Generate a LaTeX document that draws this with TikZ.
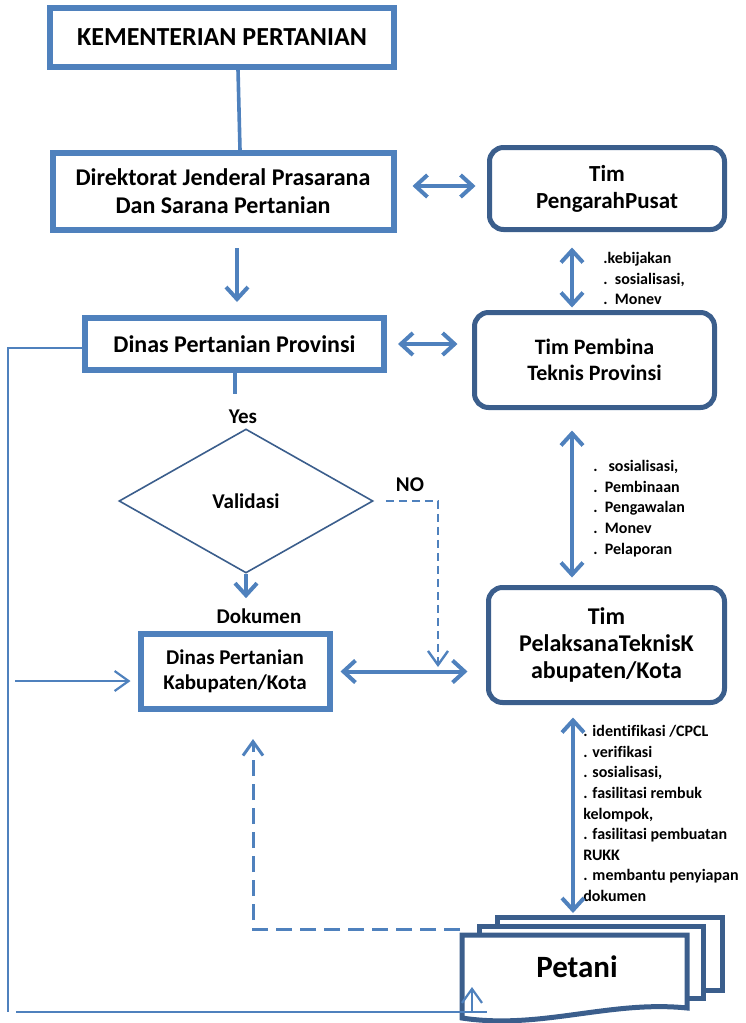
\documentclass[tikz,border=0pt]{standalone}
\usepackage{fontspec}
\setmainfont{Carlito}[Ligatures=CommonOff]
\usetikzlibrary{arrows.meta, positioning, shapes.geometric, calc}
\definecolor{boxBlue}{HTML}{4F81BD}
\definecolor{boxDark}{HTML}{3B5E8C}
\definecolor{lineBlue}{HTML}{4F81BD}
\tikzset{
  dblArrow/.style={arrows={Straight Barb[length=6pt,width=11pt]-Straight Barb[length=6pt,width=11pt]},
                   lineBlue, line width=2pt},
  oneArrow/.style={-{Straight Barb[length=6pt,width=11pt]}, lineBlue, line width=2pt},
  lineK/.style={lineBlue, line width=1.8pt},
  railLine/.style={lineBlue, line width=1.1pt},
  railArrow/.style={-{Straight Barb[length=7pt,width=10pt]}, lineBlue, line width=1.1pt},
  dashArrow/.style={-{Straight Barb[length=7pt,width=10pt]}, lineBlue, line width=1.2pt,
                    dash pattern=on 4pt off 2.5pt},
  dashBack/.style={-{Straight Barb[length=7pt,width=10pt]}, lineBlue, line width=1.5pt,
                   dash pattern=on 8pt off 4pt},
  boxS/.style={rectangle, draw=boxBlue, line width=3pt, fill=white, align=center,
               font=\bfseries\fontsize{12}{14}\selectfont, inner sep=2pt},
  boxR/.style={rectangle, rounded corners=7pt, draw=boxDark, line width=2.5pt, fill=white,
               align=center, font=\bfseries\fontsize{11}{13.2}\selectfont, inner sep=2pt},
  docLine/.style={draw=boxDark, line width=2.5pt, fill=white},
  lbl/.style={font=\bfseries\fontsize{10.5}{12}\selectfont, inner sep=0pt},
  listT/.style={anchor=north west, align=left, inner sep=0pt,
                font=\bfseries\fontsize{8}{10.3}\selectfont},
}
\begin{document}
\begin{tikzpicture}[x=0.5pt, y=-0.5pt]
  \useasboundingbox (0,0) rectangle (745,1023);

  % main column
  \node[boxS, font=\bfseries\fontsize{13}{15}\selectfont, minimum width=172pt, minimum height=29.5pt]
        (kem) at (222,37) {KEMENTERIAN PERTANIAN};
  \node[boxS, minimum width=170.5pt, minimum height=38.5pt]
        (dirjen) at (223,191.5) {Direktorat Jenderal Prasarana\\Dan Sarana Pertanian};
  \node[boxS, minimum width=149.5pt, minimum height=26pt]
        (prov) at (234.5,344) {Dinas Pertanian Provinsi};
  \node[diamond, draw=boxDark, line width=0.8pt, minimum width=127pt, minimum height=72pt,
        inner sep=0pt, lbl] (valid) at (246,501) {Validasi};
  \node[boxS, font=\bfseries\fontsize{10.5}{12.5}\selectfont, minimum width=94.5pt, minimum height=37.5pt]
        (kab) at (235,671.5) {Dinas Pertanian\\Kabupaten/Kota};
  \node[lbl] (yes) at (243,417) {Yes};
  \node[lbl] (no) at (410,485) {NO};
  \node[lbl] (dok) at (259,616) {Dokumen};

  % tim
  \node[boxR, font=\bfseries\fontsize{11.5}{13.5}\selectfont, minimum width=117.5pt, minimum height=41pt]
        (pengarah) at (607,188.5) {Tim\\PengarahPusat};
  \node[boxR, minimum width=120pt, minimum height=47.5pt]
        (pembina) at (594.5,360) {Tim Pembina\\Teknis Provinsi};
  \node[boxR, font=\bfseries\fontsize{12}{13.3}\selectfont, minimum width=118pt, minimum height=57.5pt]
        (pelaksana) at (606.5,645) {Tim\\PelaksanaTeknisK\\abupaten/Kota};

  \node[listT] (lst1) at (603,252) {.kebijakan\\.\ \ sosialisasi,\\.\ \ Monev};
  \node[listT] (lst2) at (593,460) {.\ \ \ sosialisasi,\\.\ \ Pembinaan\\.\ \ Pengawalan\\.\ \ Monev\\.\ \ Pelaporan};
  \node[listT] (lst3) at (583,725) {. identifikasi /CPCL\\. verifikasi\\. sosialisasi,\\. fasilitasi rembuk\\kelompok,\\. fasilitasi pembuatan\\RUKK\\. membantu penyiapan\\dokumen};

  % petani
  \draw[docLine] (497,917) rectangle (722,990);
  \draw[docLine] (479,926) rectangle (703,998);
  \draw[docLine] (462,935) -- (687,935) -- (687,1008)
        .. controls (610,1000) and (540,1030) .. (462,1018) -- cycle;
  \node[font=\bfseries\fontsize{15.5}{18}\selectfont, inner sep=0pt] (petani) at (577,967) {Petani};

  \coordinate (petTop) at (573,917);
  \coordinate (noEnd) at (438,667);
  \coordinate (railTop) at (8,348);
  \coordinate (railBot) at (8,1012);
  \coordinate (baseL) at (16,1012);
  \coordinate (baseR) at (487,1012);
  \coordinate (petIn) at (472,987);
  \coordinate (kabIn) at (15,681);
  \coordinate (petL) at (460,929);

  % connectors
  \draw[lineK] ([xshift=8pt]kem.south) -- ([xshift=8.5pt]dirjen.north);
  \draw[dblArrow, shorten <=8pt, shorten >=5.75pt] ([yshift=2.75pt]dirjen.east) -- ([yshift=2.75pt]dirjen.east -| pengarah.west);
  \draw[oneArrow, shorten <=7.5pt, shorten >=6.5pt] ([xshift=7pt]dirjen.south) -- ([xshift=7pt]dirjen.south |- prov.north);
  \draw[dblArrow, shorten <=5.5pt, shorten >=7.25pt] (prov.east) -- (prov.east -| pembina.west);
  \draw[dblArrow, shorten <=7.75pt, shorten >=1.25pt] ([xshift=-17.5pt]pengarah.south) -- ([xshift=-17.5pt]pengarah.south |- pembina.north);
  \draw[dblArrow, shorten <=10.25pt, shorten >=3.75pt] ([xshift=-11.25pt]pembina.south) -- ([xshift=-11.25pt]pembina.south |- pelaksana.north);
  \draw[dblArrow, shorten <=6.25pt, shorten >=2pt] ([xshift=-16.75pt]pelaksana.south) -- (petTop);
  \draw[lineK, line width=2pt, shorten >=8pt] (prov.south) -- (prov.south |- yes.north);
  \draw[oneArrow, shorten >=5pt] (valid.south) -- (valid.south |- dok.north);
  \draw[dblArrow, shorten <=4pt, shorten >=9.25pt] (kab.east) -- (kab.east -| pelaksana.west);
  \draw[dashArrow] ([xshift=6pt]valid.east) -| (noEnd);
  \draw[railLine] ([yshift=-2pt]prov.west) -- (railTop) -- (railBot);
  \draw[railLine] (baseL) -- (baseR);
  \draw[railArrow] (petIn |- baseR) -- (petIn);
  \draw[railArrow, shorten >=3.5pt] (kabIn) -- (kabIn -| kab.west);
  \draw[dashBack, shorten >=13.5pt] (petL) -| ([xshift=9pt]kab.south);
\end{tikzpicture}
\end{document}
